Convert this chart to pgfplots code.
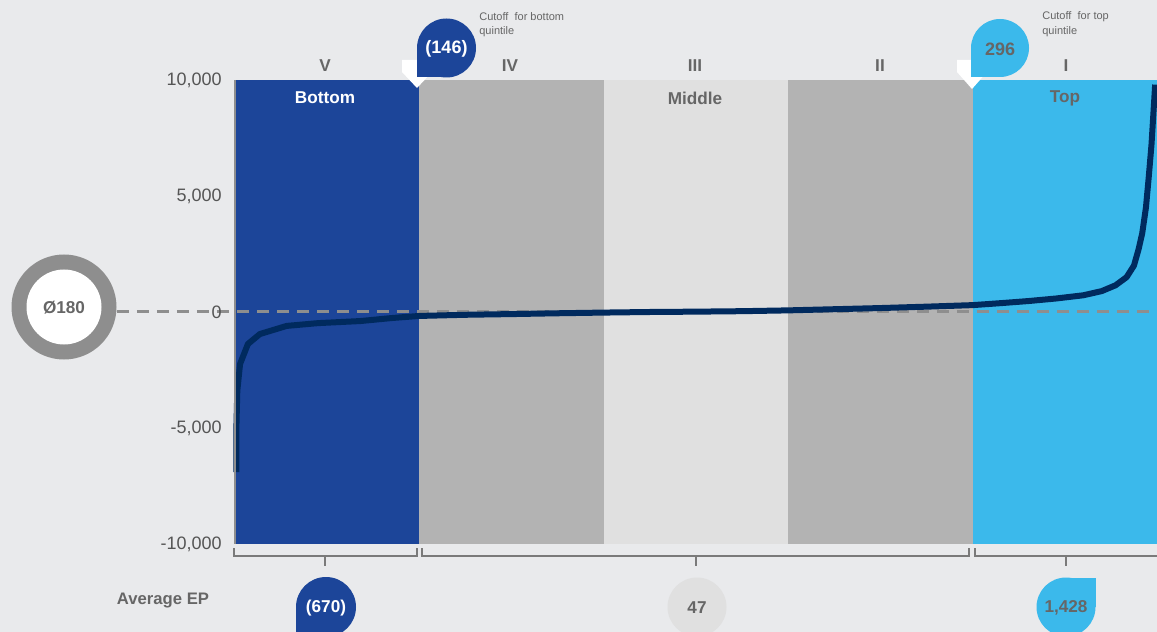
\documentclass[border=0pt]{standalone}
\usepackage{fontspec}
\setmainfont{Liberation Sans}
\usepackage{pgfplots}
\pgfplotsset{compat=1.18}
\definecolor{bgc}{HTML}{E9EAEC}
\definecolor{darkband}{HTML}{1C4599}
\definecolor{lightband}{HTML}{3BB9EB}
\definecolor{midgray}{HTML}{B3B3B3}
\definecolor{palegray}{HTML}{E0E0E0}
\definecolor{curvec}{HTML}{002A5E}
\definecolor{txt}{HTML}{666666}
\definecolor{ticktxt}{HTML}{555555}
\definecolor{ringc}{HTML}{8E8E8E}
\definecolor{brk}{HTML}{7A7A7A}
\begin{document}
\begin{tikzpicture}
\path[use as bounding box] (0,0) rectangle (694.2pt,-379.2pt);
\clip (0,0) rectangle (694.2pt,-379.2pt);
\begin{scope}[x=0.6pt,y=-0.6pt]
\fill[bgc] (0,0) rectangle (1157,632);
\end{scope}

\begin{axis}[
  at={(141pt,-326.4pt)}, anchor=south west,
  scale only axis, width=553.2pt, height=278.4pt,
  xmin=0, xmax=100, ymin=-10000, ymax=10000,
  axis x line=none, axis y line*=left,
  axis line style={draw=ringc, line width=0.8pt},
  ytick={-10000,-5000,0,5000,10000},
  scaled y ticks=false,
  major tick length=0pt,
  yticklabel style={font=\fontsize{10.8}{12}\selectfont, text=ticktxt, xshift=-4.5pt,
    /pgf/number format/1000 sep={,}, /pgf/number format/fixed,
    /pgf/number format/assume math mode=true},
  axis on top, clip=false,
]
% quintile bands
\addplot[fill=darkband, draw=none] coordinates {(0,-10000) (20,-10000) (20,10000) (0,10000)} -- cycle;
\addplot[fill=midgray, draw=none] coordinates {(20,-10000) (40,-10000) (40,10000) (20,10000)} -- cycle;
\addplot[fill=palegray, draw=none] coordinates {(40,-10000) (60,-10000) (60,10000) (40,10000)} -- cycle;
\addplot[fill=midgray, draw=none] coordinates {(60,-10000) (80,-10000) (80,10000) (60,10000)} -- cycle;
\addplot[fill=lightband, draw=none] coordinates {(80,-10000) (100,-10000) (100,10000) (80,10000)} -- cycle;
% zero line
\addplot[ringc, line width=1.8pt, dash pattern=on 7pt off 5pt] coordinates {(-12.8,0) (100,0)};
% EP distribution
\addplot[curvec, line width=3.6pt, line join=round] coordinates {
(0.15,-6900) (0.15,-5000) (0.25,-3400) (0.55,-2240) (1.4,-1380) (2.7,-950)
(5.6,-600) (9,-480) (13.6,-390) (17,-260) (20,-170) (25,-120) (30,-90)
(35,-55) (40,-25) (45,0) (50,15) (55,35) (60,70) (65,120) (70,170)
(75,230) (80,296) (83,380) (86,470) (89,580) (92,720) (94,900)
(95.5,1150) (96.7,1500) (97.5,2000) (98,2700) (98.4,3400) (98.8,4500)
(99.1,5800) (99.4,7200) (99.6,8500) (99.8,9800)};
\end{axis}

\begin{scope}[x=0.6pt,y=-0.6pt]
% circle average
\fill[ringc] (64,307) circle[radius=52.5];
\fill[white] (64,307) circle[radius=37.5];
\node[text=txt, font=\fontsize{10.3}{12}\selectfont\bfseries] at (64,308) {Ø180};
% quintile labels
\begin{scope}[every node/.style={text=txt, font=\fontsize{10.3}{12}\selectfont\bfseries}]
\node at (325,66) {V};
\node at (510,66) {IV};
\node at (695,66) {III};
\node at (880,66) {II};
\node at (1066,66) {I};
\node[text=white] at (325,98) {Bottom};
\node at (695,98) {Middle};
\node at (1065,98) {Top};
\end{scope}
% cutoff markers
\fill[white] (402,60) -- (402,72) -- (417,88) -- (432,72) -- (432,60) -- cycle;
\fill[white] (957,60) -- (957,72) -- (972,89) -- (987,72) -- (987,60) -- cycle;
\fill[darkband] (446.5,48) circle[radius=29.5];
\fill[darkband] (446.5,48) rectangle (417,77.5);
\node[text=white, font=\fontsize{10.8}{12}\selectfont\bfseries] at (446.5,49) {(146)};
\fill[lightband] (1000,48) circle[radius=29];
\fill[lightband] (1000,48) rectangle (971,77);
\node[text=txt, font=\fontsize{10.8}{12}\selectfont\bfseries] at (1000,49) {296};
\begin{scope}[every node/.style={text=txt, font=\fontsize{6.6}{9}\selectfont, anchor=west, inner sep=0pt}]
\node at (479,17) {Cutoff\ \ for bottom};
\node at (479,32) {quintile};
\node at (1042,17) {Cutoff\ \ for top};
\node at (1042,32) {quintile};
\end{scope}
% brackets
\begin{scope}[draw=brk, line width=1.3pt]
\draw (234,548) -- (234,556) -- (417,556) -- (417,548);
\draw (325,556) -- (325,566);
\draw (422,548) -- (422,556) -- (969,556) -- (969,548);
\draw (696,556) -- (696,566);
\draw (975,548) -- (975,556) -- (1157,556);
\draw (1066,556) -- (1066,566);
\end{scope}
\node[text=txt, font=\fontsize{10}{12}\selectfont\bfseries] at (163,601) {Average EP};
% averages
\fill[darkband] (326,607) circle[radius=30];
\fill[darkband] (326,607) rectangle (296,640);
\node[text=white, font=\fontsize{10.3}{12}\selectfont\bfseries] at (326,608) {(670)};
\fill[palegray] (697,607) circle[radius=29.5];
\node[text=txt, font=\fontsize{10.3}{12}\selectfont\bfseries] at (697,608) {47};
\fill[lightband] (1066,607) circle[radius=29.5];
\fill[lightband] (1066,607) rectangle (1095.5,577.5);
\node[text=txt, font=\fontsize{10.3}{12}\selectfont\bfseries] at (1066,608) {1,428};
\end{scope}
\end{tikzpicture}
\end{document}
